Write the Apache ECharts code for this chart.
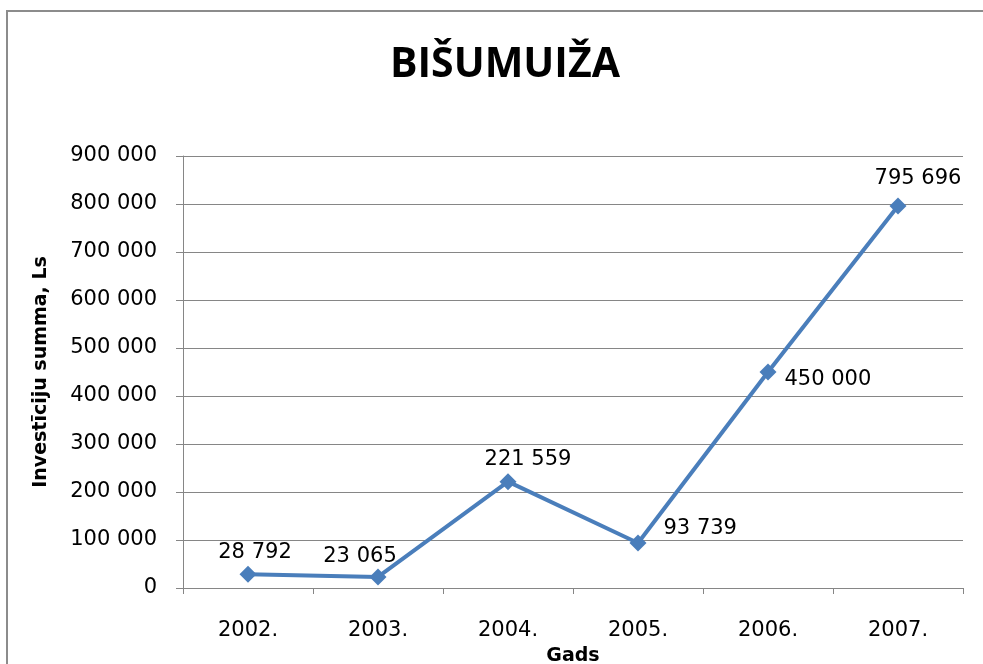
<!DOCTYPE html>
<html>
<head>
<meta charset="utf-8">
<title>BIŠUMUIŽA</title>
<script src="https://cdn.jsdelivr.net/npm/echarts@6/dist/echarts.min.js"></script>
<style>
  html, body { margin: 0; padding: 0; background: #ffffff; overflow: hidden; }
  #chart { width: 983px; height: 664px; }
</style>
</head>
<body>
<div id="chart"></div>
<script>
// Investment totals per year
const years = ['2002.', '2003.', '2004.', '2005.', '2006.', '2007.'];
const investments = [28792, 23065, 221559, 93739, 450000, 795696];
const yTicks = [0, 100000, 200000, 300000, 400000, 500000, 600000, 700000, 800000, 900000];

// Where each value label sits relative to its marker
const labelPlacement = [
  { position: 'top', offset: [7, 2] },
  { position: 'top', offset: [-18, 4] },
  { position: 'top', offset: [20, 2] },
  { position: 'right', offset: [12, -14] },
  { position: 'right', offset: [3, 8] },
  { position: 'top', offset: [20, -4] }
];

const LINE_COLOR = '#4a7ebb';
const FONT = 'DejaVu Sans';

// Space as thousands separator: 795696 -> "795 696"
function fmt(v) {
  return String(Math.round(v)).replace(/\B(?=(\d{3})+(?!\d))/g, ' ');
}

const chart = echarts.init(document.getElementById('chart'), null, { renderer: 'canvas' });

chart.setOption({
  backgroundColor: '#ffffff',
  animation: false,
  title: {
    text: 'BIŠUMUIŽA',
    left: 385,
    top: 40,
    textStyle: { fontFamily: 'Open Sans', fontWeight: 'bold', fontSize: 41, color: '#000000' }
  },
  graphic: [{
    type: 'rect',
    shape: { x: 7, y: 11, width: 1000, height: 700 },
    style: { fill: 'none', stroke: '#8c8c8c', lineWidth: 2 },
    silent: true,
    z: -1
  }],
  grid: { left: 183, right: 20, top: 156, bottom: 76, containLabel: false, outerBoundsMode: 'none' },
  xAxis: {
    type: 'category',
    data: years,
    boundaryGap: true,
    name: 'Gads',
    nameLocation: 'middle',
    nameGap: 59,
    nameTextStyle: { fontFamily: FONT, fontWeight: 'bold', fontSize: 19, color: '#000000' },
    axisLine: { show: true, lineStyle: { color: '#868686', width: 1 } },
    axisTick: { show: true, alignWithLabel: false, length: 6, lineStyle: { color: '#868686' } },
    axisLabel: { fontFamily: FONT, fontSize: 21, color: '#000000', margin: 32 },
    splitLine: { show: false }
  },
  yAxis: {
    type: 'value',
    min: yTicks[0],
    max: yTicks[yTicks.length - 1],
    interval: yTicks[1] - yTicks[0],
    name: 'Investīciju summa, Ls',
    nameLocation: 'middle',
    nameGap: 132,
    nameRotate: 90,
    nameTextStyle: { fontFamily: FONT, fontWeight: 'bold', fontSize: 19, color: '#000000' },
    axisLine: { show: true, lineStyle: { color: '#868686', width: 1 } },
    axisTick: { show: true, length: 7, lineStyle: { color: '#868686' } },
    axisLabel: { fontFamily: FONT, fontSize: 21, color: '#000000', margin: 26, formatter: fmt },
    splitLine: { show: true, lineStyle: { color: '#868686', width: 1 } }
  },
  series: [{
    type: 'line',
    data: investments.map((v, i) => ({
      value: v,
      label: {
        show: true,
        position: labelPlacement[i].position,
        offset: labelPlacement[i].offset
      }
    })),
    symbol: 'diamond',
    symbolSize: 17,
    lineStyle: { color: LINE_COLOR, width: 4 },
    itemStyle: { color: LINE_COLOR },
    label: {
      show: true,
      fontFamily: FONT,
      fontSize: 21,
      color: '#000000',
      formatter: p => fmt(p.value)
    },
    z: 3
  }]
});
</script>
</body>
</html>
